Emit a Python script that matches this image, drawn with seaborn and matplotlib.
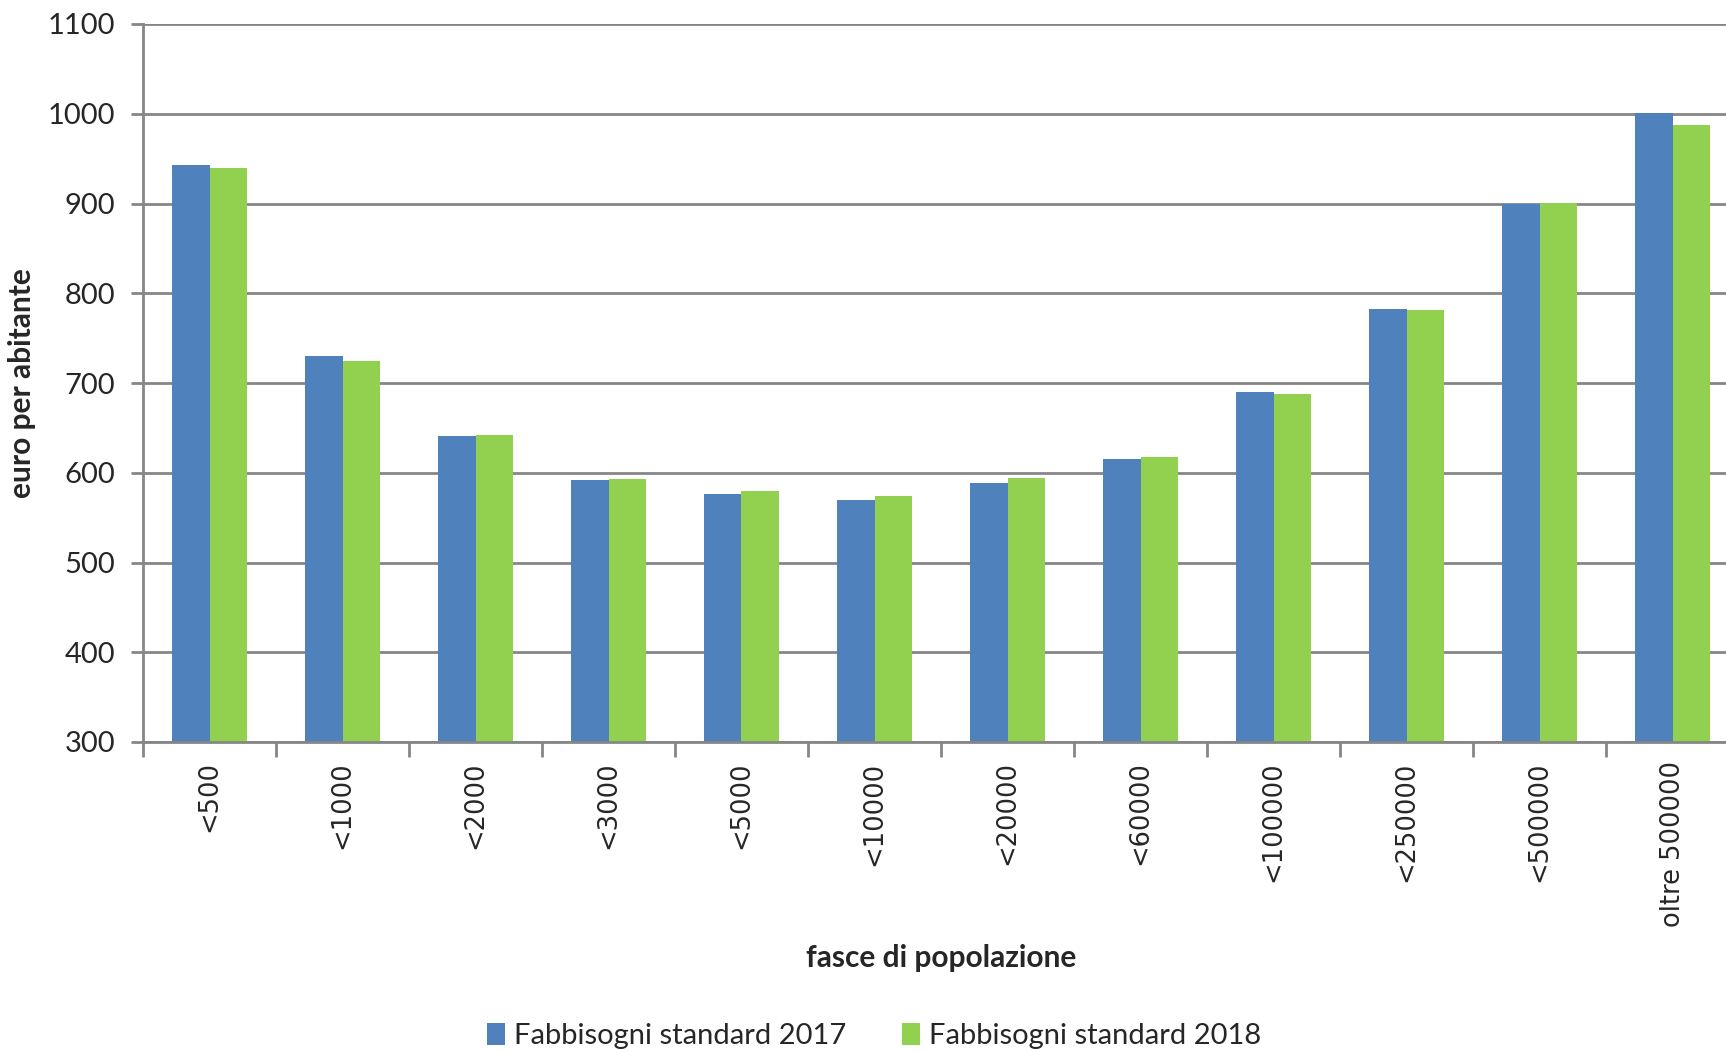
import numpy as np
import pandas as pd
import matplotlib
matplotlib.use("Agg")
import matplotlib.pyplot as plt
from matplotlib.patches import Patch
from matplotlib.ticker import FixedLocator
import seaborn as sns

# dati
fasce = ['<500', '<1000', '<2000', '<3000', '<5000', '<10000', '<20000',
         '<60000', '<100000', '<250000', '<500000', 'oltre 500000']
fs_2017 = [943, 730, 641, 592, 576, 570, 589, 615, 690, 783, 899, 1001]
fs_2018 = [939, 725, 642, 593, 580, 574, 594, 618, 688, 781, 901, 988]
serie = ['Fabbisogni standard 2017', 'Fabbisogni standard 2018']
colori = ['#4F81BD', '#92D050']

df = pd.DataFrame({
    'fascia': fasce * 2,
    'valore': fs_2017 + fs_2018,
    'serie': [serie[0]] * len(fasce) + [serie[1]] * len(fasce),
})

sns.set_style("white")
plt.rcParams['font.family'] = ['Lato', 'DejaVu Sans']
grigio = '#868686'

fig = plt.figure(figsize=(17.26, 10.52), dpi=100)
ax = fig.add_axes([143 / 1726, 310 / 1052, 1596 / 1726, 718 / 1052])

sns.barplot(data=df, x='fascia', y='valore', hue='serie', palette=colori,
            width=0.56, saturation=1, ax=ax, legend=False, linewidth=0)

ax.set_ylim(300, 1100)
ax.set_xlim(-0.5, len(fasce) - 0.5)
ax.set_yticks(np.arange(300, 1101, 100))
ax.yaxis.grid(True, color=grigio, linewidth=2)
ax.set_axisbelow(True)

for lato in ['top', 'right']:
    ax.spines[lato].set_visible(False)
for lato in ['left', 'bottom']:
    ax.spines[lato].set_color(grigio)
    ax.spines[lato].set_linewidth(2)

ax.tick_params(axis='y', which='major', left=True, length=9, width=2,
               color=grigio, labelsize=21, pad=11)
ax.tick_params(axis='x', which='major', length=0, pad=14)
ax.xaxis.set_minor_locator(FixedLocator(np.arange(-0.5, len(fasce), 1.0)))
ax.tick_params(axis='x', which='minor', bottom=True, length=11, width=2,
               color=grigio)
ax.set_xticks(range(len(fasce)))
ax.set_xticklabels(fasce, rotation=90, fontsize=18.5, family='DejaVu Sans',
                   va='top', ha='center')

ax.set_xlabel('')
ax.set_ylabel('')
fig.text(22 / 1726, 1 - 383 / 1052, 'euro per abitante', rotation=90,
         fontsize=21.5, fontweight='bold', ha='center', va='center')
fig.text(941 / 1726, 1 - 958 / 1052, 'fasce di popolazione',
         fontsize=21.5, fontweight='bold', ha='center', va='center')

handles = [Patch(facecolor=c, edgecolor='none') for c in colori]
fig.legend(handles, serie, loc='center', bbox_to_anchor=(874 / 1726, 1 - 1036 / 1052),
           ncol=2, frameon=False, fontsize=21, handlelength=0.62, handleheight=0.75,
           handletextpad=0.3, columnspacing=1.9)

fig.savefig('out.png', dpi=100)
